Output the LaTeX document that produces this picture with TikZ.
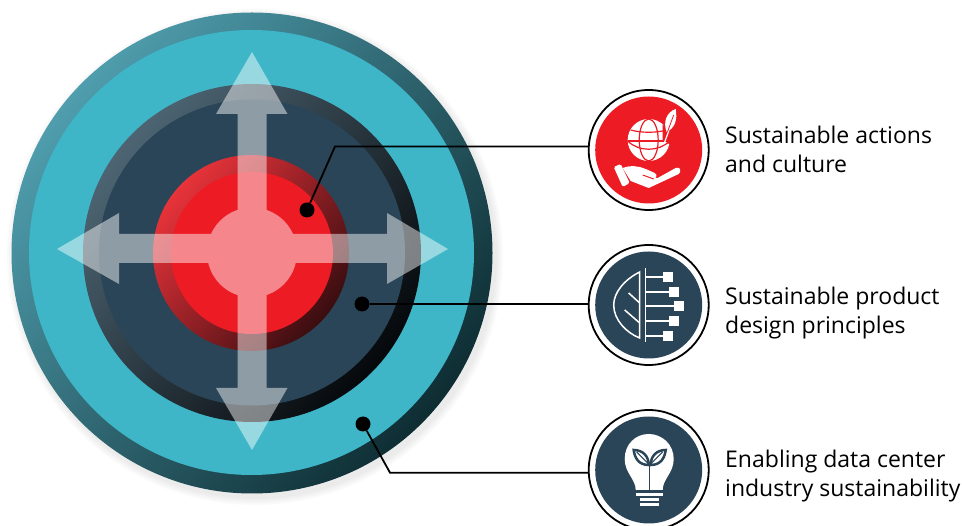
\documentclass[tikz,border=0pt]{standalone}
\usepackage{fontspec}
\setmainfont{Open Sans}
\usepackage{tikz}
\usetikzlibrary{positioning,calc}
\definecolor{tealdisc}{HTML}{3EB6C8}
\definecolor{navydisc}{HTML}{2B4558}
\definecolor{reddisc}{HTML}{ED1C24}
\definecolor{tealhigh}{HTML}{4F9DAD}
\definecolor{tealmid}{HTML}{2C6D7A}
\definecolor{teallow}{HTML}{0E2D33}
\definecolor{navyhigh}{HTML}{4D6573}
\definecolor{navymid}{HTML}{1F303C}
\definecolor{navylow}{HTML}{05080B}
\definecolor{redhigh}{HTML}{E8333A}
\definecolor{redmid}{HTML}{A92229}
\definecolor{redlow}{HTML}{3A0D10}
\tikzset{
    disc/.style={circle, inner sep=0pt, outer sep=0pt, minimum size=#1},
    marker/.style={circle, fill=black, inner sep=0pt, minimum size=15pt},
    leader/.style={line width=1.8pt, black, line join=miter},
    iconring/.style={disc=120pt, draw=black, line width=1.8pt, fill=white},
    iconline/.style={line width=1.5pt},
    caption/.style={anchor=west, align=left, font=\fontsize{23}{29}\selectfont, inner sep=0pt},
}

\begin{document}
\begin{tikzpicture}[x=1pt, y=-1pt]
    \useasboundingbox (0,0) rectangle (962,526);

    % soft shadow under the big disc
    \foreach \r in {242,244,246,248}
        \fill[black, opacity=.02] (255,257) circle[radius=\r];

    \node[disc=481pt, shading=axis, left color=tealhigh, middle color=tealmid, right color=teallow, shading angle=50] (outerring) at (252,253) {};
    \node[disc=445pt, fill=tealdisc] (tealdisc) at (251.5,252.5) {};

    \node[disc=338pt, shading=axis, left color=navyhigh, middle color=navymid, right color=navylow, shading angle=50] (darkring) at (252,253) {};
    \node[disc=306pt, fill=navydisc] (navydisc) at (252,252.5) {};

    \node[disc=196pt, shading=axis, left color=redhigh, middle color=redmid, right color=redlow, shading angle=50] (redring) at (251,253) {};
    \node[disc=162pt, fill=reddisc] (reddisc) at (252,253) {};

    % the four arrows and the hub as one flat shape
    \begin{scope}[transparency group, opacity=.47]
        \fill[white] (252,252.5) circle[radius=45];
        \fill[white] (237.5,234) -- (237.5,114) -- (216,114) -- (252,52) -- (287.5,114) -- (266.5,114)
            -- (266.5,234) -- (387,234) -- (387,213) -- (448,249) -- (387,284) -- (387,263)
            -- (266.5,263) -- (266.5,388) -- (287.5,388) -- (252,450) -- (216,388) -- (237.5,388)
            -- (237.5,263) -- (119,263) -- (119,284) -- (57,249) -- (119,213) -- (119,234) -- cycle;
    \end{scope}

    \node[iconring] (icona) at (648.7,150) {};
    \node[iconring] (iconb) at (648.7,305) {};
    \node[iconring] (iconc) at (648.7,470) {};

    \node[disc=107pt, fill=reddisc] at (icona) {};
    \node[disc=107pt, fill=navydisc] at (iconb) {};
    \node[disc=107pt, fill=navydisc] at (iconc) {};

    \node[marker] (dota) at (307,210) {};
    \node[marker] (dotb) at (362,304) {};
    \node[marker] (dotc) at (363,424) {};

    \coordinate (benda) at (335,146.5);
    \coordinate (bendc) at (390,472.7);

    \draw[leader] (dota) -- (benda) -- (benda -| icona.west);
    \draw[leader] (dotb) -- (dotb -| iconb.west);
    \draw[leader] (dotc) -- (bendc) -- (bendc -| iconc.west);

    % globe in a hand
    \begin{scope}[shift={(icona)}]
        \fill[white] (0,-10) circle[radius=21];
        \draw[reddisc, line width=1.2pt] (0,-10) ellipse[x radius=9.5, y radius=21];
        \draw[reddisc, line width=1.2pt] (-18,-20) .. controls (-8,-17) and (8,-17) .. (18,-20);
        \draw[reddisc, line width=1.2pt] (-21,-9) -- (21,-9);
        \draw[reddisc, line width=1.2pt] (-21,-9) .. controls (-10,2) and (10,2) .. (21,-9);
        \fill[reddisc] (14,-25) -- (25,-21) -- (22,-5) -- (14,-10) -- cycle;
        \fill[white] (18,-18) .. controls (14,-28) and (18,-38) .. (27,-41) .. controls (29,-30) and (26,-22) .. (18,-18) -- cycle;
        \draw[reddisc, line width=.8pt] (18,-16) -- (25,-35);
        \draw[white, line width=1.2pt] (20,-19) -- (16,-8);
        \fill[white, rounded corners=1.5pt] (-35,17) -- (-28,14) -- (-19,33) -- (-26,37) -- cycle;
        \fill[white] (-26,18) .. controls (-18,15) and (-10,16) .. (-3,19) -- (6,23) .. controls (9,25) and (8,28) .. (5,27.5) -- (9,28) -- (27,18) .. controls (32,16) and (33,22) .. (30,24) -- (0,38) -- (-18,31) -- cycle;
        \draw[reddisc, line width=1pt] (-6,25) -- (5,29);
    \end{scope}

    % half leaf turning into a circuit
    \begin{scope}[shift={(iconb)}, white]
        \draw[iconline] (-9,-33) .. controls (-25,-25) and (-35,-12) .. (-35,0) .. controls (-35,15) and (-22,28) .. (-9,33) -- cycle;
        \draw[iconline] (-9,-2) -- (-20,-12);
        \draw[iconline] (-9,18) -- (-24,5);
        \draw[iconline] (-3,-37) -- (-3,37);
        \foreach \yy/\xx in {-28/14, -13/20, 1/25, 16/20, 31/14} {
            \draw[iconline] (-3,\yy) -- (\xx,\yy);
            \fill (\xx,\yy-5) rectangle (\xx+10,\yy+5);
        }
    \end{scope}

    % light bulb with a sprout
    \begin{scope}[shift={(iconc)}]
        \fill[white] (-13,20) .. controls (-13,9) and (-24,3) .. (-24,-11) .. controls (-24,-26) and (-13,-36) .. (0,-36) .. controls (13,-36) and (25,-26) .. (25,-11) .. controls (25,3) and (14,9) .. (14,20) -- cycle;
        \draw[navydisc, line width=1.2pt] (1,20) -- (1,-5);
        \filldraw[fill=white, draw=navydisc, line width=2.5pt] (0,-5) .. controls (-10,-5) and (-14,-12) .. (-15,-20) .. controls (-6,-20) and (0,-14) .. (0,-5) -- cycle;
        \filldraw[fill=white, draw=navydisc, line width=2.5pt] (2,-5) .. controls (12,-5) and (16,-12) .. (17,-20) .. controls (8,-20) and (2,-14) .. (2,-5) -- cycle;
        \draw[navydisc, line width=1pt] (0,-6) -- (-12,-18);
        \draw[navydisc, line width=1pt] (2,-6) -- (14,-18);
        \fill[white] (-12.5,23) rectangle (14,26.5);
        \fill[white] (-8.5,28.5) rectangle (10.5,31.5);
        \fill[white] (-8.5,33.5) rectangle (10.5,36.5);
    \end{scope}

    \node[caption] (captiona) at (725,149.5) {Sustainable actions\\and culture};
    \node[caption] (captionb) at (725,313) {Sustainable product\\design principles};
    \node[caption] (captionc) at (725,476.5) {Enabling data center\\industry sustainability};
\end{tikzpicture}
\end{document}
